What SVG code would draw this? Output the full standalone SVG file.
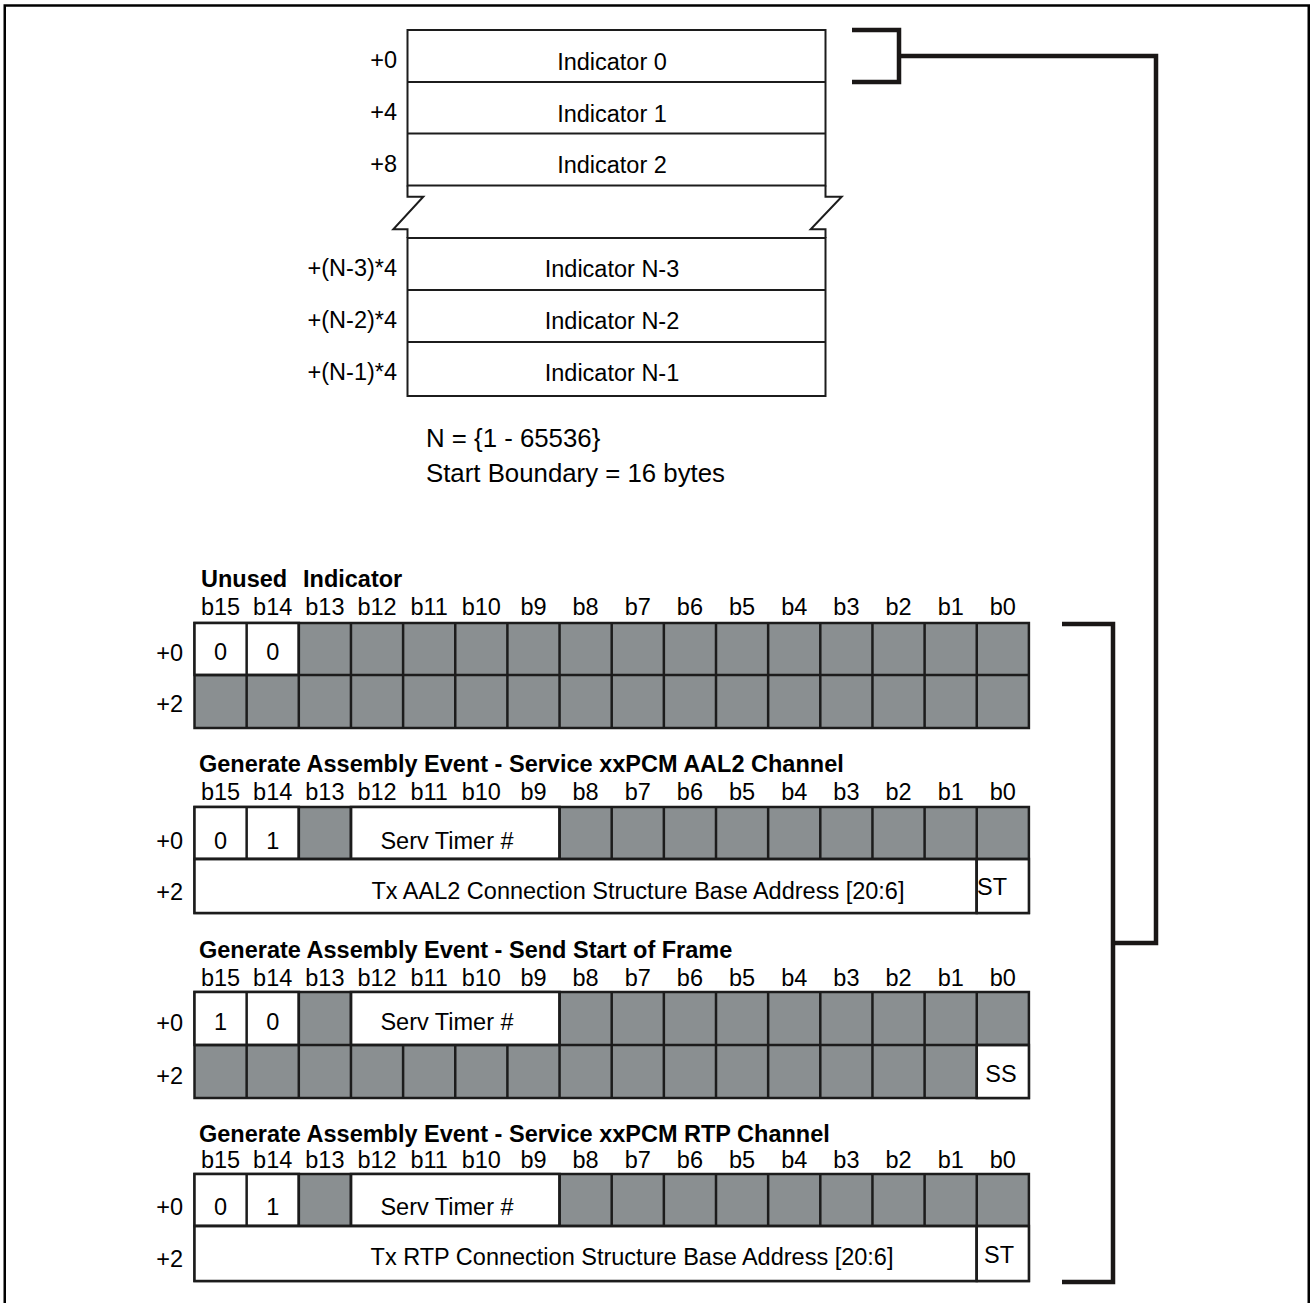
<svg xmlns="http://www.w3.org/2000/svg" width="1310" height="1303" viewBox="0 0 1310 1303">
<style>
.t{font-family:"Liberation Sans",Arial,sans-serif;font-size:23.5px;fill:#000}
.c{text-anchor:middle}
.r{text-anchor:end}
.b{font-weight:bold}
.cell{stroke:#1c1c1c;stroke-width:2.5}
.g{fill:#8a8f91}
.w{fill:#fff}
.ln{stroke:#1c1c1c;stroke-width:2.5;fill:none}
.tl{stroke:#1c1c1c;stroke-width:2;fill:none}
.br{stroke:#1a1716;stroke-width:4.5;fill:none}
</style>
<rect x="0" y="0" width="1310" height="1303" fill="#fff"/>
<rect x="4.75" y="5.5" width="1304" height="1310" fill="none" stroke="#000" stroke-width="2.5"/>

<g id="indicator-table">
  <rect x="407.5" y="30" width="418" height="155.5" fill="#fff" class="tl"/>
  <line x1="407.5" y1="82" x2="825.5" y2="82" class="tl"/>
  <line x1="407.5" y1="133.5" x2="825.5" y2="133.5" class="tl"/>
  <polyline points="407.5,185.5 407.5,196.7 423.3,196.7 393.3,229.3 407.5,229.3 407.5,238" class="tl"/>
  <polyline points="825.5,185.5 825.5,196.7 841.7,196.7 810.7,229.3 825.5,229.3 825.5,238" class="tl"/>
  <rect x="407.5" y="238" width="418" height="158" fill="#fff" class="tl"/>
  <line x1="407.5" y1="290" x2="825.5" y2="290" class="tl"/>
  <line x1="407.5" y1="342" x2="825.5" y2="342" class="tl"/>
  <text class="t c" x="612" y="70">Indicator 0</text>
  <text class="t c" x="612" y="122">Indicator 1</text>
  <text class="t c" x="612" y="173">Indicator 2</text>
  <text class="t c" x="612" y="277">Indicator N-3</text>
  <text class="t c" x="612" y="329">Indicator N-2</text>
  <text class="t c" x="612" y="381">Indicator N-1</text>
  <text class="t r" x="397" y="68">+0</text>
  <text class="t r" x="397" y="120">+4</text>
  <text class="t r" x="397" y="172">+8</text>
  <text class="t r" x="397" y="276">+(N-3)*4</text>
  <text class="t r" x="397" y="328">+(N-2)*4</text>
  <text class="t r" x="397" y="380">+(N-1)*4</text>
</g>

<g id="notes">
  <text class="t" x="426" y="447" style="font-size:25.8px">N = {1 - 65536}</text>
  <text class="t" x="426" y="482" style="font-size:25.8px">Start Boundary = 16 bytes</text>
</g>

<g id="unused-indicator">
  <text class="t b" x="201" y="587">Unused</text>
  <text class="t b" x="303" y="587">Indicator</text>
  <g class="t c">
    <text x="220.6" y="615">b15</text><text x="272.7" y="615">b14</text><text x="324.9" y="615">b13</text><text x="377" y="615">b12</text>
    <text x="429.2" y="615">b11</text><text x="481.3" y="615">b10</text><text x="533.5" y="615">b9</text><text x="585.6" y="615">b8</text>
    <text x="637.8" y="615">b7</text><text x="689.9" y="615">b6</text><text x="742.1" y="615">b5</text><text x="794.2" y="615">b4</text>
    <text x="846.4" y="615">b3</text><text x="898.5" y="615">b2</text><text x="950.7" y="615">b1</text><text x="1002.8" y="615">b0</text>
  </g>
  <rect x="194.5" y="623" width="834.4" height="105" class="cell g"/>
  <rect x="194.5" y="623" width="104.3" height="52" class="cell w"/>
  <path class="ln" d="M194.5 675H1028.9 M246.65 623V728 M298.8 623V728 M350.95 623V728 M403.1 623V728 M455.25 623V728 M507.4 623V728 M559.55 623V728 M611.7 623V728 M663.85 623V728 M716 623V728 M768.15 623V728 M820.3 623V728 M872.45 623V728 M924.6 623V728 M976.75 623V728"/>
  <text class="t c" x="220.6" y="660">0</text>
  <text class="t c" x="272.7" y="660">0</text>
  <text class="t r" x="183" y="661">+0</text>
  <text class="t r" x="183" y="712">+2</text>
</g>

<g id="aal2-channel">
  <text class="t b" x="199" y="772">Generate Assembly Event - Service xxPCM AAL2 Channel</text>
  <g class="t c">
    <text x="220.6" y="800">b15</text><text x="272.7" y="800">b14</text><text x="324.9" y="800">b13</text><text x="377" y="800">b12</text>
    <text x="429.2" y="800">b11</text><text x="481.3" y="800">b10</text><text x="533.5" y="800">b9</text><text x="585.6" y="800">b8</text>
    <text x="637.8" y="800">b7</text><text x="689.9" y="800">b6</text><text x="742.1" y="800">b5</text><text x="794.2" y="800">b4</text>
    <text x="846.4" y="800">b3</text><text x="898.5" y="800">b2</text><text x="950.7" y="800">b1</text><text x="1002.8" y="800">b0</text>
  </g>
  <rect x="194.5" y="807" width="834.4" height="106" class="cell g"/>
  <rect x="194.5" y="807" width="104.3" height="52" class="cell w"/>
  <rect x="350.95" y="807" width="208.6" height="52" class="cell w"/>
  <rect x="194.5" y="859" width="782.25" height="54" class="cell w"/>
  <rect x="976.75" y="859" width="52.15" height="54" class="cell w"/>
  <path class="ln" d="M194.5 859H1028.9 M246.65 807V859 M298.8 807V859 M350.95 807V859 M559.55 807V859 M611.7 807V859 M663.85 807V859 M716 807V859 M768.15 807V859 M820.3 807V859 M872.45 807V859 M924.6 807V859 M976.75 807V913"/>
  <text class="t c" x="220.6" y="849">0</text>
  <text class="t c" x="272.7" y="849">1</text>
  <text class="t c" x="447" y="849">Serv Timer #</text>
  <text class="t c" x="638" y="899">Tx AAL2 Connection Structure Base Address [20:6]</text>
  <text class="t" x="977" y="895">ST</text>
  <text class="t r" x="183" y="849">+0</text>
  <text class="t r" x="183" y="900">+2</text>
</g>

<g id="start-of-frame">
  <text class="t b" x="199" y="958">Generate Assembly Event - Send Start of Frame</text>
  <g class="t c">
    <text x="220.6" y="986">b15</text><text x="272.7" y="986">b14</text><text x="324.9" y="986">b13</text><text x="377" y="986">b12</text>
    <text x="429.2" y="986">b11</text><text x="481.3" y="986">b10</text><text x="533.5" y="986">b9</text><text x="585.6" y="986">b8</text>
    <text x="637.8" y="986">b7</text><text x="689.9" y="986">b6</text><text x="742.1" y="986">b5</text><text x="794.2" y="986">b4</text>
    <text x="846.4" y="986">b3</text><text x="898.5" y="986">b2</text><text x="950.7" y="986">b1</text><text x="1002.8" y="986">b0</text>
  </g>
  <rect x="194.5" y="992" width="834.4" height="106" class="cell g"/>
  <rect x="194.5" y="992" width="104.3" height="53" class="cell w"/>
  <rect x="350.95" y="992" width="208.6" height="53" class="cell w"/>
  <rect x="976.75" y="1045" width="52.15" height="53" class="cell w"/>
  <path class="ln" d="M194.5 1045H1028.9 M246.65 992V1098 M298.8 992V1098 M350.95 992V1098 M403.1 1045V1098 M455.25 1045V1098 M507.4 1045V1098 M559.55 992V1098 M611.7 992V1098 M663.85 992V1098 M716 992V1098 M768.15 992V1098 M820.3 992V1098 M872.45 992V1098 M924.6 992V1098 M976.75 992V1098"/>
  <text class="t c" x="220.6" y="1030">1</text>
  <text class="t c" x="272.7" y="1030">0</text>
  <text class="t c" x="447" y="1030">Serv Timer #</text>
  <text class="t c" x="1001" y="1082">SS</text>
  <text class="t r" x="183" y="1031">+0</text>
  <text class="t r" x="183" y="1084">+2</text>
</g>

<g id="rtp-channel">
  <text class="t b" x="199" y="1142">Generate Assembly Event - Service xxPCM RTP Channel</text>
  <g class="t c">
    <text x="220.6" y="1168">b15</text><text x="272.7" y="1168">b14</text><text x="324.9" y="1168">b13</text><text x="377" y="1168">b12</text>
    <text x="429.2" y="1168">b11</text><text x="481.3" y="1168">b10</text><text x="533.5" y="1168">b9</text><text x="585.6" y="1168">b8</text>
    <text x="637.8" y="1168">b7</text><text x="689.9" y="1168">b6</text><text x="742.1" y="1168">b5</text><text x="794.2" y="1168">b4</text>
    <text x="846.4" y="1168">b3</text><text x="898.5" y="1168">b2</text><text x="950.7" y="1168">b1</text><text x="1002.8" y="1168">b0</text>
  </g>
  <rect x="194.5" y="1174" width="834.4" height="107" class="cell g"/>
  <rect x="194.5" y="1174" width="104.3" height="52" class="cell w"/>
  <rect x="350.95" y="1174" width="208.6" height="52" class="cell w"/>
  <rect x="194.5" y="1226" width="782.25" height="55" class="cell w"/>
  <rect x="976.75" y="1226" width="52.15" height="55" class="cell w"/>
  <path class="ln" d="M194.5 1226H1028.9 M246.65 1174V1226 M298.8 1174V1226 M350.95 1174V1226 M559.55 1174V1226 M611.7 1174V1226 M663.85 1174V1226 M716 1174V1226 M768.15 1174V1226 M820.3 1174V1226 M872.45 1174V1226 M924.6 1174V1226 M976.75 1174V1281"/>
  <text class="t c" x="220.6" y="1215">0</text>
  <text class="t c" x="272.7" y="1215">1</text>
  <text class="t c" x="447" y="1215">Serv Timer #</text>
  <text class="t c" x="632" y="1265">Tx RTP Connection Structure Base Address [20:6]</text>
  <text class="t c" x="999" y="1263">ST</text>
  <text class="t r" x="183" y="1215">+0</text>
  <text class="t r" x="183" y="1267">+2</text>
</g>

<g id="connectors">
  <polyline class="br" points="852,30 899,30 899,82 852,82"/>
  <polyline class="br" points="899,56 1156,56 1156,943 1113,943"/>
  <polyline class="br" points="1062,624 1113,624 1113,1282 1062,1282"/>
</g>
</svg>
